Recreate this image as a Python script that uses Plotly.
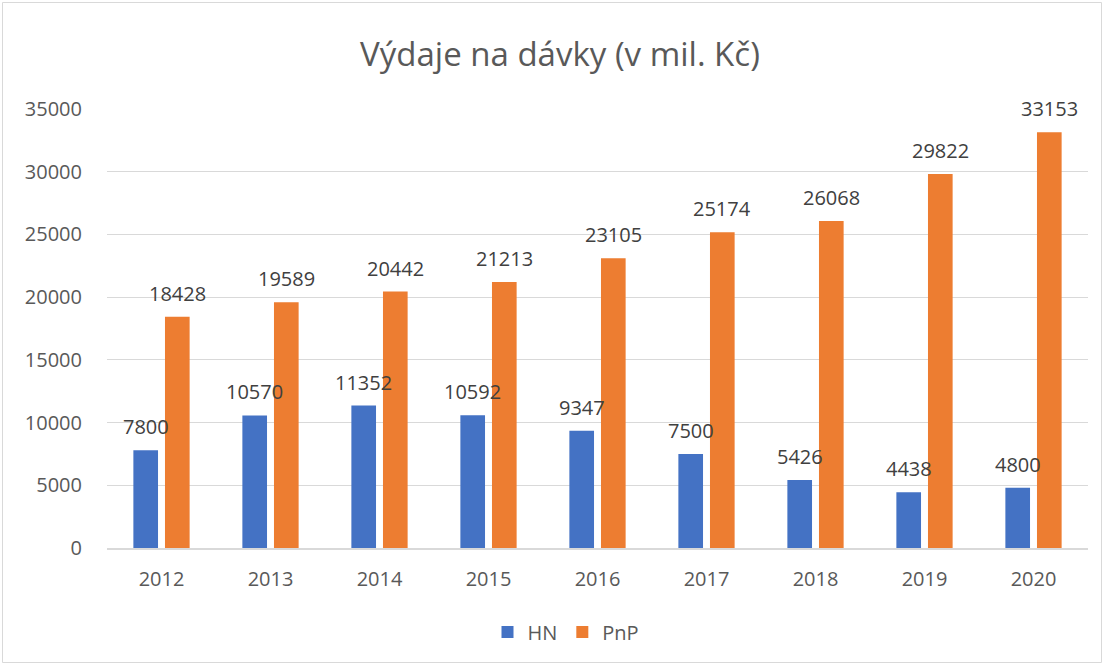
import plotly.graph_objects as go

years = ["2012", "2013", "2014", "2015", "2016", "2017", "2018", "2019", "2020"]
hn = [7800, 10570, 11352, 10592, 9347, 7500, 5426, 4438, 4800]
pnp = [18428, 19589, 20442, 21213, 23105, 25174, 26068, 29822, 33153]
y_ticks = [0, 5000, 10000, 15000, 20000, 25000, 30000, 35000]

FONT = "Open Sans"
W, H = 1105, 666
L, R, T, B = 107, 17, 109, 118
pw, ph = W - L - R, H - T - B
BARGAP, GROUPGAP = 0.42, 0.22


def px_x(p):
    return (p - L) / pw


def px_y(p):
    return (H - B - p) / ph


fig = go.Figure()
fig.add_trace(go.Bar(name="HN", x=years, y=hn, marker_color="#4472C4",
                     marker_line_width=0))
fig.add_trace(go.Bar(name="PnP", x=years, y=pnp, marker_color="#ED7D31",
                     marker_line_width=0))

# data labels placed above each bar (Excel-like spacing)
off = (1 - BARGAP) / 4
annotations = []
for series, sign in ((hn, -1), (pnp, 1)):
    for i, v in enumerate(series):
        annotations.append(dict(x=i + sign * off, y=v, xref="x", yref="y",
                                text=str(v), showarrow=False, yanchor="bottom",
                                yshift=8,
                                font=dict(size=20, color="#404040", family=FONT)))

fig.update_layout(
    width=W, height=H,
    margin=dict(l=L, r=R, t=T, b=B),
    paper_bgcolor="white", plot_bgcolor="white",
    barmode="group", bargap=BARGAP, bargroupgap=GROUPGAP,
    font=dict(family=FONT, color="#595959", size=20),
    title=dict(text="Výdaje na dávky (v mil. Kč)", x=560 / W, xanchor="center",
               y=1 - 54 / H, yanchor="middle",
               font=dict(size=33, color="#595959", family=FONT)),
    xaxis=dict(showgrid=False, showline=True, linecolor="#D9D9D9", linewidth=1.5,
               ticks="", tickfont=dict(size=20, color="#595959"),
               ticklabelstandoff=12, range=[-0.5, len(years) - 0.5]),
    yaxis=dict(range=[0, 35000], tickvals=y_ticks, ticktext=[str(v) for v in y_ticks],
               showgrid=True, gridcolor="#D9D9D9",
               gridwidth=1, zeroline=False, showline=False, ticks="",
               tickfont=dict(size=20, color="#595959"), ticklabelstandoff=24),
    legend=dict(orientation="h", x=px_x(566), xanchor="center", y=px_y(632),
                yanchor="middle", font=dict(size=20, color="#595959")),
    annotations=annotations,
    shapes=[dict(type="rect", xref="paper", yref="paper",
                 x0=px_x(2.5), x1=px_x(1101.5), y0=px_y(662.5), y1=px_y(2.5),
                 line=dict(color="#D9D9D9", width=1), fillcolor="rgba(0,0,0,0)",
                 layer="below")],
)

fig.write_html("out.html", config={"displayModeBar": False},
               post_script="document.body.style.margin='0';")
